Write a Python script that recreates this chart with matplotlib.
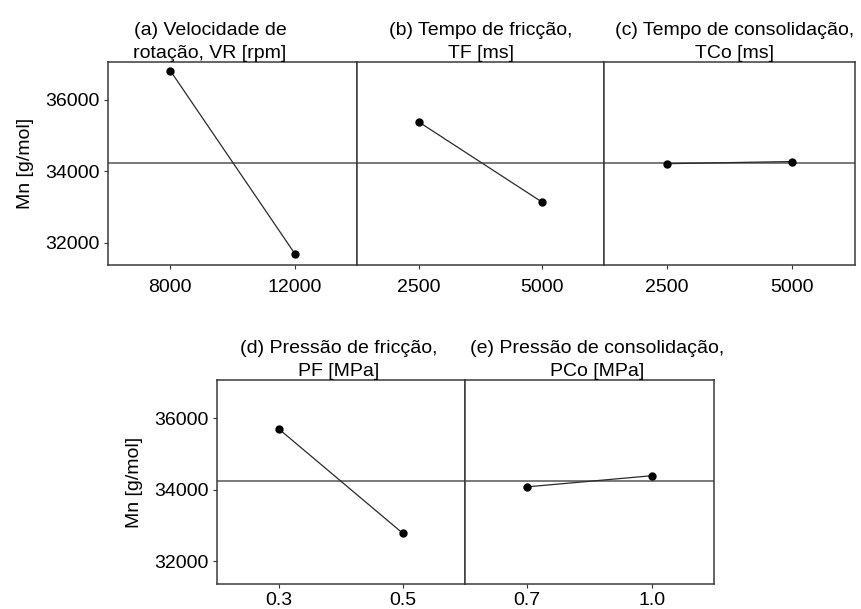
import matplotlib
matplotlib.use('Agg')
import matplotlib.pyplot as plt

plt.rcParams['font.family'] = ['Liberation Sans', 'DejaVu Sans']

# Médias de Mn por nível de cada fator
titulos = ['(a) Velocidade de\nrotação, VR [rpm]',
           '(b) Tempo de fricção,\nTF [ms]',
           '(c) Tempo de consolidação,\nTCo [ms]',
           '(d) Pressão de fricção,\nPF [MPa]',
           '(e) Pressão de consolidação,\nPCo [MPa]']

niveis_a = [8000, 12000]
mn_a = [36820, 31690]
niveis_b = [2500, 5000]
mn_b = [35380, 33130]
niveis_c = [2500, 5000]
mn_c = [34210, 34270]
niveis_d = [0.3, 0.5]
mn_d = [35690, 32780]
niveis_e = [0.7, 1.0]
mn_e = [34080, 34390]

rotulos_a = ['8000', '12000']
rotulos_b = ['2500', '5000']
rotulos_c = ['2500', '5000']
rotulos_d = ['0.3', '0.5']
rotulos_e = ['0.7', '1.0']

media_geral = 34230
yticks = [32000, 34000, 36000]

W, H = 861, 609
fig = plt.figure(figsize=(W / 100, H / 100), dpi=100)

def caixa(x0, x1, y0, y1):
    # pixels -> coordenadas da figura
    return [x0 / W, 1 - y1 / H, (x1 - x0) / W, (y1 - y0) / H]

# posição, níveis, médias, rótulos, xlim, eixo y com rótulos, x do título, pad dos rótulos x
paineis = [
    (caixa(108, 357, 62, 265), niveis_a, mn_a, rotulos_a, (6000, 14000), True, 0.41, 7),
    (caixa(357, 604, 62, 265), niveis_b, mn_b, rotulos_b, (1250, 6250), False, 0.5, 7),
    (caixa(604, 855, 62, 265), niveis_c, mn_c, rotulos_c, (1250, 6250), False, 0.52, 7),
    (caixa(217, 465, 380, 584), niveis_d, mn_d, rotulos_d, (0.2, 0.6), True, 0.49, 2.5),
    (caixa(465, 714, 380, 584), niveis_e, mn_e, rotulos_e, (0.55, 1.15), False, 0.53, 2.5),
]

for i, (pos, x, y, rot, xl, esq, xt, padx) in enumerate(paineis):
    ax = fig.add_axes(pos)
    ax.axhline(media_geral, color='#555555', lw=1.1, zorder=1)
    ax.plot(x, y, color='#2a2a2a', lw=0.9, marker='o', ms=5,
            mfc='black', mec='black', zorder=3)
    ax.set_xlim(xl)
    ax.set_ylim(31370, 37060)
    ax.set_xticks(x)
    ax.set_xticklabels(rot)
    ax.set_yticks(yticks)
    if esq:
        ax.set_ylabel('Mn [g/mol]', fontsize=14, labelpad=8)
        ax.tick_params(axis='y', length=3, pad=3, labelsize=14, color='#333333')
    else:
        ax.tick_params(axis='y', length=0, labelleft=False)
    ax.tick_params(axis='x', length=3, pad=padx, labelsize=14, color='#333333')
    for s in ax.spines.values():
        s.set_color('#3a3a3a')
        s.set_linewidth(1.1)
    ax.set_title(titulos[i], fontsize=14, pad=1, linespacing=1.5, x=xt)

fig.savefig('out.png', dpi=100)
